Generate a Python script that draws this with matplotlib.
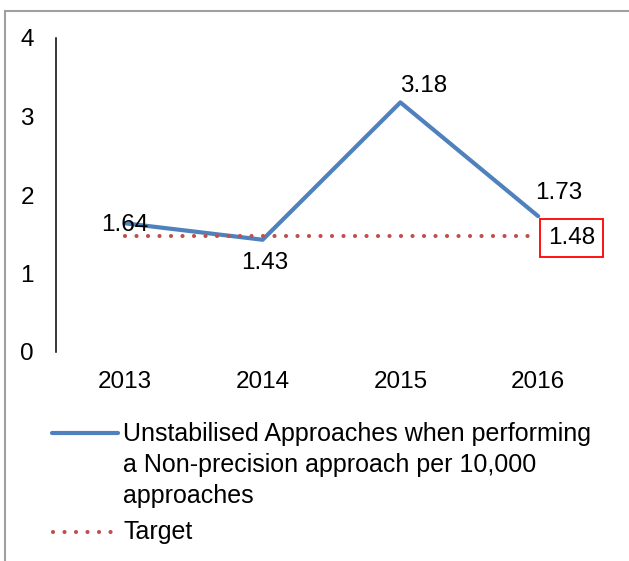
import matplotlib.pyplot as plt
from matplotlib.lines import Line2D
from matplotlib.patches import Rectangle

plt.rcParams['font.family'] = ['Liberation Sans', 'DejaVu Sans']

years = ['2013', '2014', '2015', '2016']
rates = [1.64, 1.43, 3.18, 1.73]
target = [1.48, 1.48, 1.48, 1.48]
series_label = 'Unstabilised Approaches when performing\na Non-precision approach per 10,000\napproaches'
target_label = 'Target'

blue = '#4F81BD'
red = '#C0504D'
fs = 17.5

W, H = 629, 561
fig = plt.figure(figsize=(W / 100, H / 100), dpi=100)
ax = fig.add_axes([56 / W, 1 - 352 / H, 551 / W, (352 - 38) / H])

x = list(range(len(years)))
ax.plot(x, rates, color=blue, linewidth=3, solid_capstyle='round')
dotted = (0, (0.01, 2.75))
ax.plot(x, target, color=red, linewidth=3, linestyle=dotted, dash_capstyle='round')

ax.set_xlim(-0.5, 3.5)
ax.set_ylim(0, 4)
ax.set_yticks([0, 1, 2, 3, 4])
ax.set_xticks(x)
ax.set_xticklabels(years)
ax.tick_params(axis='x', length=0, labelsize=fs, pad=14)
ax.tick_params(axis='y', length=0, labelsize=fs, pad=16)
for side in ['top', 'right', 'bottom']:
    ax.spines[side].set_visible(False)
ax.spines['left'].set_linewidth(1.1)

# value labels next to each point
offsets = [(0, -1.5), (1.5, -16.5), (17, 12), (15, 17)]
for i, (dx, dy) in enumerate(offsets):
    ax.annotate(f'{rates[i]:.2f}', xy=(i, rates[i]), xytext=(dx, dy),
                textcoords='offset points', ha='center', va='center', fontsize=fs)
ax.annotate(f'{target[3]:.2f}', xy=(3, target[3]), xytext=(24, -1.5),
            textcoords='offset points', ha='center', va='center', fontsize=fs,
            bbox=dict(boxstyle='square,pad=0.33', fc='white', ec='#FF0000', lw=1.3))

# legend drawn by hand so the handle sits on the first text line
lfs = 18
fig.add_artist(Line2D([52 / W, 118 / W], [1 - 433 / H] * 2, color=blue, lw=3,
                      solid_capstyle='round', transform=fig.transFigure))
fig.text(123 / W, 1 - 422 / H, series_label, fontsize=lfs, ha='left', va='top',
         linespacing=1.38)
fig.add_artist(Line2D([53 / W, 112 / W], [1 - 532 / H] * 2, color=red, lw=3,
                      linestyle=dotted, dash_capstyle='round', transform=fig.transFigure))
fig.text(123 / W, 1 - 532 / H, target_label, fontsize=lfs, ha='left', va='center')

# outer chart border
fig.add_artist(Rectangle((5 / W, -0.05), 1.1, 1 - 11 / H + 0.05,
                         transform=fig.transFigure, fill=False,
                         ec='#A0A0A0', lw=1.5))

fig.savefig('out.png', dpi=100)
